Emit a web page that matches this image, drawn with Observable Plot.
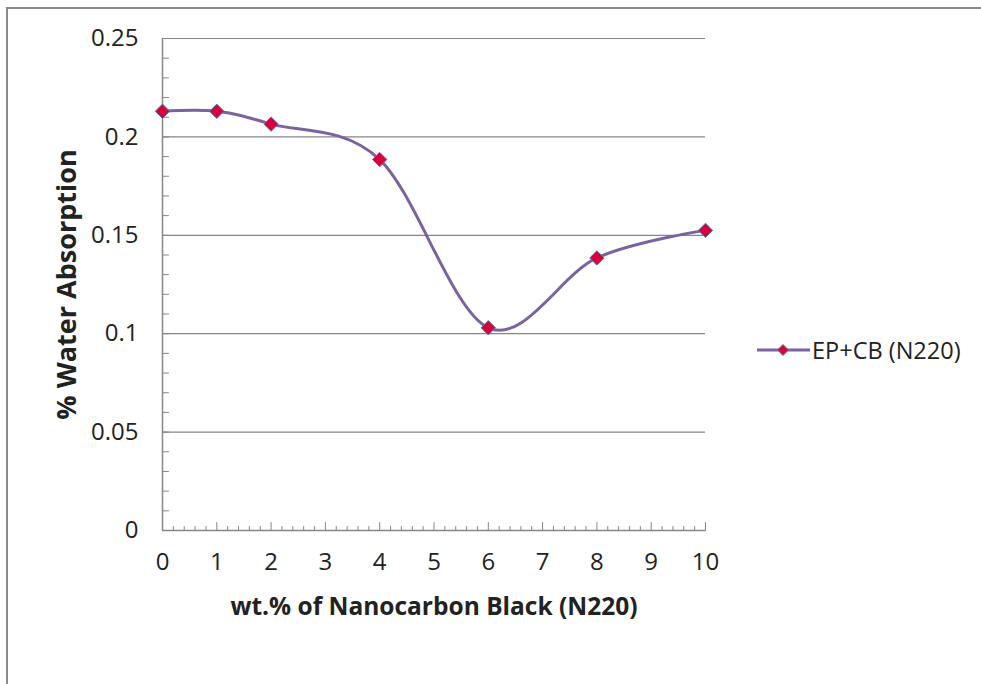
<!DOCTYPE html>
<html>
<head>
<meta charset="utf-8">
<script src="https://cdn.jsdelivr.net/npm/d3@7"></script>
<script src="https://cdn.jsdelivr.net/npm/@observablehq/plot@0.6"></script>
<style>
  html, body { margin: 0; padding: 0; background: #fff; overflow: hidden; }
  #wrap { position: relative; width: 981px; height: 684px; }
  #border { position: absolute; left: 6px; top: 7px; width: 2000px; height: 2000px;
            border-top: 2px solid #8c8c8c; border-left: 2px solid #8c8c8c; }
  #chart { position: absolute; left: 0; top: 0; }
  #legend { position: absolute; left: 755px; top: 334px; display: flex; align-items: center;
            font-family: "Open Sans", sans-serif; font-size: 23.5px; color: #222; }
</style>
</head>
<body>
<div id="wrap">
  <div id="border"></div>
  <div id="chart"></div>
  <div id="legend"></div>
</div>
<script>
// Data
const wtPercent = [0, 1, 2, 4, 6, 8, 10];
const waterAbsorption = [0.213, 0.213, 0.2065, 0.1885, 0.103, 0.1385, 0.1525];
const seriesName = "EP+CB (N220)";
const xTicks = [0, 1, 2, 3, 4, 5, 6, 7, 8, 9, 10];
const yTicks = [0, 0.05, 0.1, 0.15, 0.2, 0.25];
const xTitle = "wt.% of Nanocarbon Black (N220)";
const yTitle = "% Water Absorption";

const data = wtPercent.map((x, i) => ({x, y: waterAbsorption[i]}));
const xMinor = d3.range(0, 10.0001, 0.2).map(d => +d.toFixed(1)).filter(d => !xTicks.includes(d));
const yMinor = d3.range(0, 0.2501, 0.01).map(d => +d.toFixed(2));

const lineColor = "#7b63a1";
const markFill = "#d9003b";
const markStroke = "#4f7fa8";
const axisColor = "#868686";
const tickUp = {draw(ctx, l) { ctx.moveTo(0, 0); ctx.lineTo(0, -l); }};

const chart = Plot.plot({
  width: 981,
  height: 684,
  marginLeft: 162,
  marginRight: 276,
  marginTop: 38,
  marginBottom: 154,
  style: {fontFamily: "Open Sans, sans-serif", background: "transparent", color: "#222"},
  x: {domain: [0, 10]},
  y: {domain: [0, 0.25]},
  marks: [
    Plot.ruleY(yTicks.filter(d => d > 0), {stroke: axisColor, strokeWidth: 1.2}),
    Plot.ruleY([0], {stroke: axisColor, strokeWidth: 1.5}),
    Plot.ruleX([0], {stroke: axisColor, strokeWidth: 1.5}),
    Plot.vector(xMinor, {x: d => d, y: 0, length: 4, anchor: "start", rotate: 0, shape: tickUp, stroke: axisColor, strokeWidth: 1}),
    Plot.vector(xTicks, {x: d => d, y: 0, length: 8, anchor: "start", rotate: 0, shape: tickUp, stroke: axisColor, strokeWidth: 1}),
    Plot.vector(yMinor, {x: 0, y: d => d, length: 6, anchor: "start", rotate: 90, shape: tickUp, stroke: axisColor, strokeWidth: 1}),
    Plot.axisX({ticks: xTicks, tickSize: 0, tickPadding: 22, fontSize: 24, tickFormat: d => String(d), label: null}),
    Plot.axisY({ticks: yTicks, tickSize: 0, tickPadding: 24, fontSize: 24, tickFormat: d => String(d), label: null}),
    Plot.text([xTitle], {frameAnchor: "bottom", dy: 84, text: d => d, fontSize: 24.5, fontWeight: "bold", lineAnchor: "bottom"}),
    Plot.text([yTitle], {frameAnchor: "left", dx: -95, rotate: -90, textAnchor: "middle", text: d => d, fontSize: 27, fontWeight: "bold"}),
    Plot.line(data, {x: "x", y: "y", curve: "cardinal", stroke: lineColor, strokeWidth: 3}),
    Plot.dot(data, {x: "x", y: "y", symbol: "diamond2", r: 6.5, fill: markFill, stroke: markStroke, strokeWidth: 1})
  ]
});
document.getElementById("chart").appendChild(chart);

// Legend
const legend = document.getElementById("legend");
legend.innerHTML = `<svg width="56" height="20" style="margin-right:1px">
  <line x1="2" y1="10" x2="55" y2="10" stroke="${lineColor}" stroke-width="3"/>
  <path d="M28,4.5 L33.5,10 L28,15.5 L22.5,10 Z" fill="${markFill}" stroke="${markStroke}" stroke-width="1"/>
</svg><span>${seriesName}</span>`;
</script>
</body>
</html>
